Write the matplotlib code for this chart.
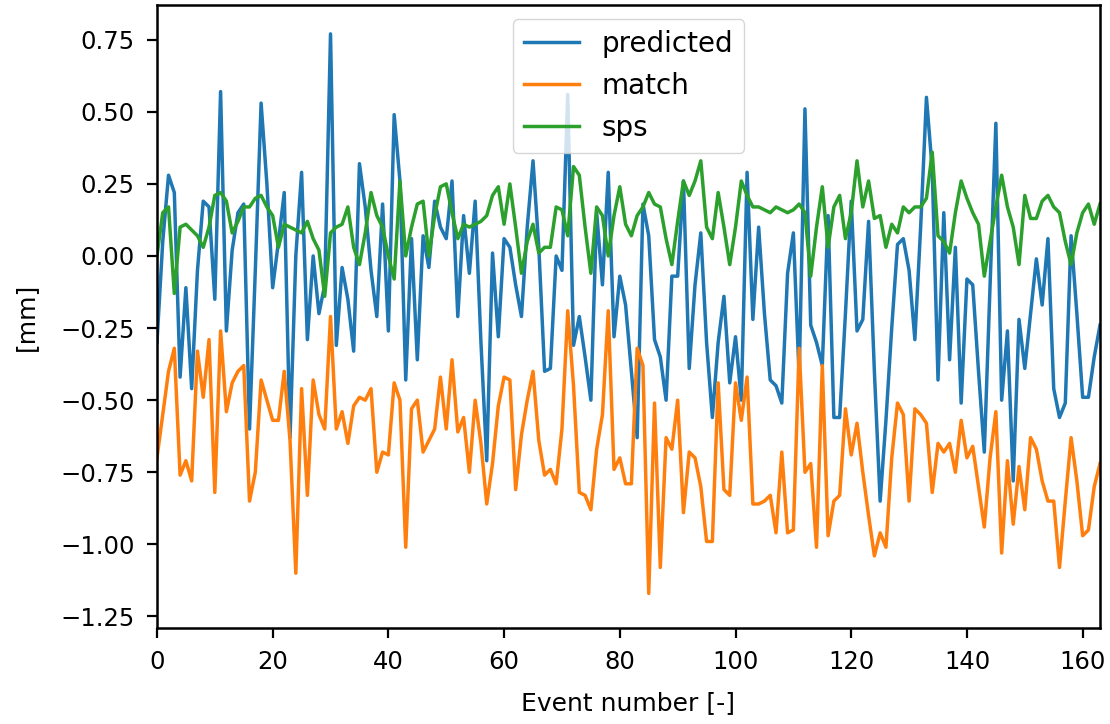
import numpy as np
import matplotlib
matplotlib.use("Agg")
import matplotlib.pyplot as plt

# values (one per event, 0..163)
predicted = [
    -0.30, 0.05, 0.28, 0.22, -0.42, -0.11, -0.46, -0.05, 0.19, 0.17,
    -0.15, 0.57, -0.26, 0.02, 0.15, 0.18, -0.60, -0.05, 0.53, 0.25,
    -0.11, 0.05, 0.22, -0.63, 0.00, 0.29, -0.29, 0.00, -0.20, -0.10,
    0.77, -0.31, -0.04, -0.15, -0.33, 0.32, 0.17, -0.05, -0.21, 0.18,
    -0.26, 0.49, 0.26, -0.43, 0.06, -0.36, 0.07, -0.04, 0.19, 0.10,
    0.06, 0.26, -0.21, 0.14, -0.06, 0.19, -0.30, -0.71, 0.01, -0.28,
    0.06, 0.03, -0.10, -0.21, 0.10, 0.33, 0.03, -0.40, -0.39, 0.00,
    -0.05, 0.56, -0.31, -0.21, -0.35, -0.50, 0.15, -0.10, 0.29, -0.28,
    -0.07, -0.17, -0.40, -0.63, 0.18, 0.07, -0.29, -0.35, -0.50, -0.07,
    -0.07, 0.26, -0.39, -0.10, 0.08, -0.30, -0.56, -0.30, -0.14, -0.44,
    -0.28, -0.50, 0.29, -0.22, 0.10, -0.20, -0.43, -0.45, -0.51, -0.06,
    0.08, -0.42, 0.51, -0.24, -0.30, -0.38, 0.14, -0.56, -0.56, -0.20,
    0.19, -0.26, -0.22, 0.12, -0.40, -0.85, -0.57, -0.25, 0.04, 0.06,
    -0.05, -0.29, 0.10, 0.55, 0.30, -0.43, 0.15, -0.36, 0.03, -0.51,
    -0.08, -0.10, -0.40, -0.68, -0.10, 0.46, -0.50, -0.26, -0.78, -0.22,
    -0.39, -0.20, -0.01, -0.17, 0.06, -0.46, -0.56, -0.51, 0.07, -0.20,
    -0.49, -0.49, -0.35, -0.24,
]

match = [
    -0.70, -0.55, -0.40, -0.32, -0.76, -0.71, -0.78, -0.33, -0.49, -0.29,
    -0.82, -0.26, -0.54, -0.44, -0.40, -0.38, -0.85, -0.75, -0.43, -0.50,
    -0.57, -0.57, -0.40, -0.64, -1.10, -0.46, -0.83, -0.43, -0.55, -0.60,
    -0.21, -0.60, -0.54, -0.65, -0.52, -0.49, -0.50, -0.46, -0.75, -0.68,
    -0.69, -0.44, -0.50, -1.01, -0.53, -0.50, -0.68, -0.64, -0.60, -0.42,
    -0.60, -0.36, -0.61, -0.56, -0.75, -0.50, -0.65, -0.86, -0.72, -0.52,
    -0.42, -0.43, -0.81, -0.62, -0.50, -0.40, -0.64, -0.76, -0.74, -0.79,
    -0.60, -0.19, -0.45, -0.82, -0.83, -0.88, -0.67, -0.55, -0.19, -0.74,
    -0.70, -0.79, -0.79, -0.32, -0.38, -1.17, -0.51, -1.08, -0.63, -0.67,
    -0.50, -0.89, -0.68, -0.70, -0.80, -0.99, -0.99, -0.44, -0.81, -0.83,
    -0.44, -0.57, -0.42, -0.86, -0.86, -0.85, -0.83, -0.96, -0.68, -0.96,
    -0.95, -0.32, -0.75, -0.72, -1.01, -0.38, -0.97, -0.85, -0.83, -0.53,
    -0.69, -0.58, -0.75, -0.90, -1.04, -0.96, -1.01, -0.70, -0.51, -0.55,
    -0.85, -0.53, -0.55, -0.58, -0.82, -0.65, -0.68, -0.65, -0.75, -0.57,
    -0.70, -0.66, -0.80, -0.94, -0.70, -0.54, -1.03, -0.71, -0.93, -0.73,
    -0.88, -0.63, -0.67, -0.78, -0.85, -0.85, -1.08, -0.85, -0.63, -0.78,
    -0.97, -0.95, -0.80, -0.72,
]

sps = [
    0.00, 0.15, 0.17, -0.13, 0.10, 0.11, 0.09, 0.07, 0.03, 0.10,
    0.21, 0.22, 0.19, 0.08, 0.12, 0.17, 0.17, 0.20, 0.21, 0.17,
    0.14, 0.03, 0.11, 0.10, 0.09, 0.08, 0.12, 0.06, 0.02, -0.14,
    0.08, 0.10, 0.11, 0.17, 0.03, -0.03, 0.08, 0.22, 0.14, 0.10,
    0.00, -0.08, 0.26, 0.00, 0.10, 0.18, 0.19, 0.00, 0.14, 0.24,
    0.25, 0.15, 0.06, 0.11, 0.10, 0.11, 0.12, 0.14, 0.21, 0.24,
    0.11, 0.25, 0.10, -0.06, 0.05, 0.11, 0.01, 0.03, 0.03, 0.17,
    0.16, 0.07, 0.31, 0.28, 0.10, -0.06, 0.17, 0.14, 0.00, 0.14,
    0.24, 0.11, 0.07, 0.14, 0.17, 0.22, 0.18, 0.17, 0.06, -0.03,
    0.12, 0.26, 0.21, 0.26, 0.33, 0.10, 0.06, 0.22, 0.10, -0.03,
    0.10, 0.26, 0.21, 0.17, 0.17, 0.16, 0.15, 0.17, 0.16, 0.15,
    0.16, 0.18, 0.15, -0.07, 0.10, 0.24, 0.03, 0.17, 0.21, 0.06,
    0.15, 0.33, 0.17, 0.26, 0.13, 0.14, 0.03, 0.11, 0.08, 0.17,
    0.15, 0.17, 0.17, 0.20, 0.36, 0.07, 0.05, 0.01, 0.15, 0.26,
    0.20, 0.15, 0.11, -0.07, 0.05, 0.17, 0.28, 0.17, 0.10, -0.03,
    0.21, 0.13, 0.13, 0.19, 0.21, 0.17, 0.15, 0.05, -0.03, 0.08,
    0.15, 0.18, 0.11, 0.18,
]

plt.rcParams['font.size'] = 17

fig = plt.figure(figsize=(11.1, 7.24), dpi=100)
ax = fig.add_axes([0.1414, 0.1326, 0.8496, 0.8604])

lw = 2.5
ax.plot(np.arange(len(predicted)), predicted, color='#1f77b4', lw=lw, label='predicted')
ax.plot(np.arange(len(match)), match, color='#ff7f0e', lw=lw, label='match')
ax.plot(np.arange(len(sps)), sps, color='#2ca02c', lw=lw, label='sps')

ax.set_xlim(0, 163)
ax.set_ylim(-1.29, 0.87)
ax.set_yticks([-1.25, -1.0, -0.75, -0.5, -0.25, 0.0, 0.25, 0.5, 0.75])
ax.set_xticks([0, 20, 40, 60, 80, 100, 120, 140, 160])
ax.tick_params(length=7, width=1.6, labelsize=17.5, pad=9)
for s in ax.spines.values():
    s.set_linewidth(1.8)

ax.set_xlabel('Event number [-]', fontsize=18, labelpad=12)
ax.set_ylabel('[mm]', fontsize=18, labelpad=16)
ax.legend(loc='upper center', fontsize=20, borderaxespad=0.5)

fig.savefig('out.png', dpi=100)
